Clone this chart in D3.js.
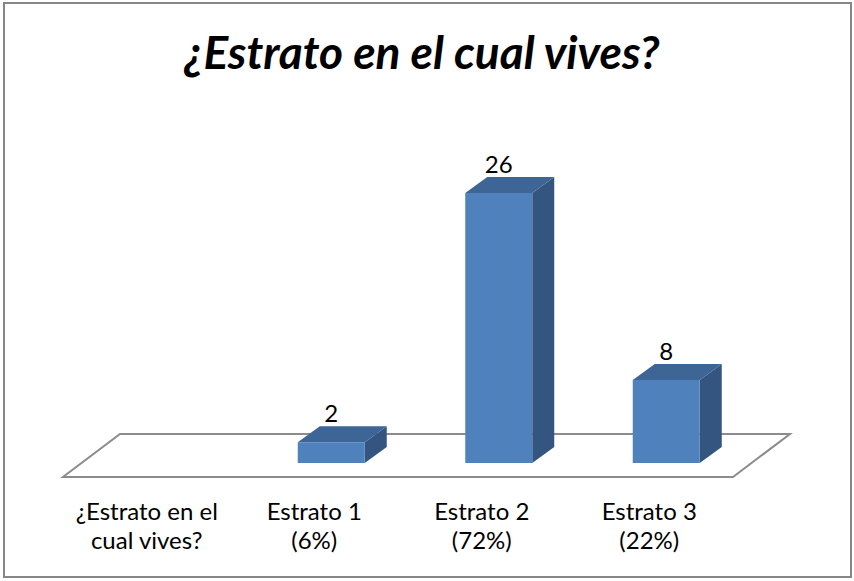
<!DOCTYPE html>
<html>
<head>
<meta charset="utf-8">
<script src="https://cdn.jsdelivr.net/npm/d3@7"></script>
<style>
  body { margin: 0; background: #fff; }
  text { font-family: Lato, "Liberation Sans", sans-serif; fill: #000; }
</style>
</head>
<body>
<div id="chart"></div>
<script>
// chart data
var title = "¿Estrato en el cual vives?";
var categories = ["¿Estrato en el cual vives?", "Estrato 1 (6%)", "Estrato 2 (72%)", "Estrato 3 (22%)"];
var labelLines = [["¿Estrato en el", "cual vives?"], ["Estrato 1", "(6%)"], ["Estrato 2", "(72%)"], ["Estrato 3", "(22%)"]];
var values = [null, 2, 26, 8];

// area space
var width = 854;
var height = 581;

var floor = {left: 63, right: 733, front: 477, dx: 57, dy: -43};
var barDepth = {dx: 22, dy: -16};
var barOffset = {dx: 17, dy: -14};

var svg = d3.select("#chart")
  .append("svg")
  .attr("width", width)
  .attr("height", height);

// outer border
svg.append("rect")
  .attr("x", 4)
  .attr("y", 3)
  .attr("width", 847)
  .attr("height", 574)
  .attr("fill", "#fff")
  .attr("stroke", "#868686")
  .attr("stroke-width", 2);

// title
svg.append("text")
  .attr("x", 422)
  .attr("y", 69)
  .attr("text-anchor", "middle")
  .style("font-size", "46px")
  .style("font-weight", "bold")
  .style("font-style", "italic")
  .text(title);

// scales
var x = d3.scaleBand()
  .domain(categories)
  .range([floor.left, floor.right]);

var baseY = floor.front + barOffset.dy;
var y = d3.scaleLinear()
  .domain([0, 26])
  .range([baseY, 193]);

var barWidth = x.bandwidth() * 0.4;

// floor
var floorPts = [
  [floor.left, floor.front],
  [floor.right, floor.front],
  [floor.right + floor.dx, floor.front + floor.dy],
  [floor.left + floor.dx, floor.front + floor.dy]
];
svg.append("path")
  .attr("d", "M" + floorPts.join("L") + "Z")
  .attr("fill", "#fff")
  .attr("stroke", "#8c8c8c")
  .attr("stroke-width", 2);

// bars
var barData = categories.map(function(c, i){
  return {cat: c, value: values[i]};
}).filter(function(d){ return d.value != null; });

var bars = svg.selectAll(".bar")
  .data(barData)
  .enter()
  .append("g")
  .attr("class", "bar");

function frontX(d){
  return x(d.cat) + x.bandwidth() / 2 + barOffset.dx - barWidth / 2;
}

// side face
bars.append("path")
  .attr("fill", "#34557f")
  .attr("d", function(d){
    var x1 = frontX(d) + barWidth, y0 = y(0), y1 = y(d.value);
    return "M" + x1 + "," + y0 +
      "L" + x1 + "," + y1 +
      "L" + (x1 + barDepth.dx) + "," + (y1 + barDepth.dy) +
      "L" + (x1 + barDepth.dx) + "," + (y0 + barDepth.dy) + "Z";
  });

// top face
bars.append("path")
  .attr("fill", "#3d6596")
  .attr("d", function(d){
    var x0 = frontX(d), x1 = x0 + barWidth, y1 = y(d.value);
    return "M" + x0 + "," + y1 +
      "L" + x1 + "," + y1 +
      "L" + (x1 + barDepth.dx) + "," + (y1 + barDepth.dy) +
      "L" + (x0 + barDepth.dx) + "," + (y1 + barDepth.dy) + "Z";
  });

// front face
bars.append("rect")
  .attr("fill", "#4f81bd")
  .attr("x", frontX)
  .attr("y", function(d){ return y(d.value); })
  .attr("width", barWidth)
  .attr("height", function(d){ return y(0) - y(d.value); });

// value labels
bars.append("text")
  .attr("x", function(d){ return frontX(d) + barWidth / 2; })
  .attr("y", function(d){ return y(d.value) + barDepth.dy - 4; })
  .attr("text-anchor", "middle")
  .style("font-size", "24px")
  .text(function(d){ return d.value; });

// category labels
var catLabels = svg.selectAll(".catLabel")
  .data(categories)
  .enter()
  .append("text")
  .attr("class", "catLabel")
  .attr("text-anchor", "middle")
  .style("font-size", "24px");

catLabels.selectAll("tspan")
  .data(function(d, i){
    return labelLines[i].map(function(t){ return {cat: d, text: t}; });
  })
  .enter()
  .append("tspan")
  .attr("x", function(d){ return x(d.cat) + x.bandwidth() / 2; })
  .attr("y", function(d, i){ return 520 + i * 29; })
  .text(function(d){ return d.text; });
</script>
</body>
</html>
